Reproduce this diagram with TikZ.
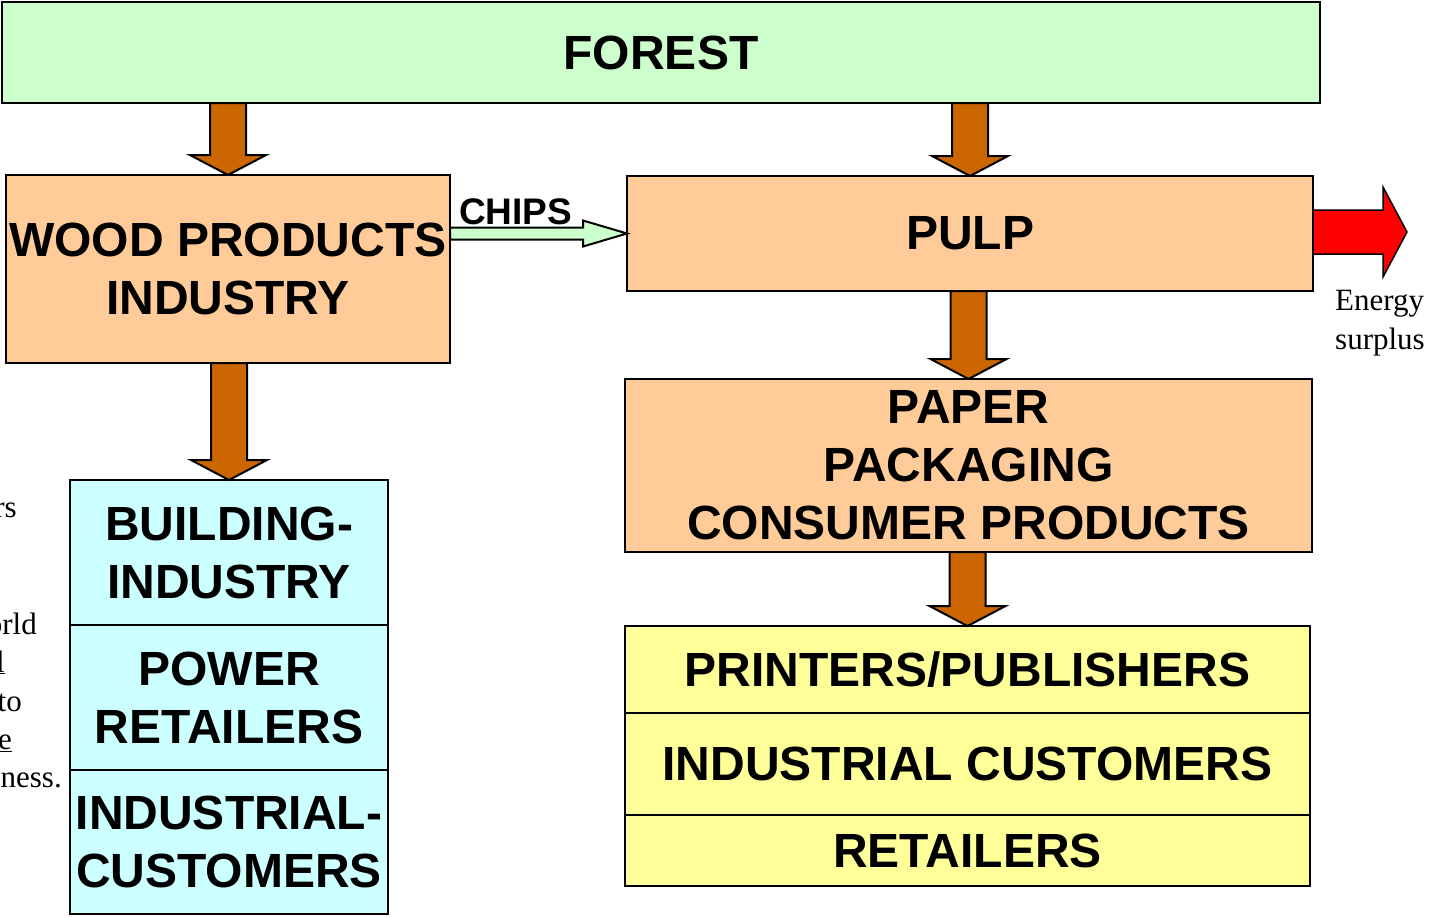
\documentclass[tikz,border=0pt]{standalone}
\usepackage{fontspec}
\setmainfont{Liberation Sans}
\newfontfamily\timesfont{Liberation Serif}
\usetikzlibrary{calc,positioning}

\definecolor{forestgreen}{HTML}{CCFFCC}
\definecolor{woodorange}{HTML}{FFCC99}
\definecolor{usercyan}{HTML}{CCFFFF}
\definecolor{useryellow}{HTML}{FFFF99}
\definecolor{flowbrown}{HTML}{CC6600}

% fat arrow from the bottom of one box down to the top of the next
\newcommand{\flowdown}[2]{%
	\filldraw[flow] let \p1=(#2.north), \p2=(#1.south) in
	(\x1-18,\y2) -- (\x1-18,\y1+20) -- (\x1-38,\y1+20) -- (\x1,\y1)
	-- (\x1+38,\y1+20) -- (\x1+18,\y1+20) -- (\x1+18,\y2) -- cycle;}

\begin{document}
\begin{tikzpicture}[x=1pt,y=1pt,
		% Style definitions
		box/.style={
			rectangle,
			draw=black,
			line width=2pt,
			inner sep=0pt,
			outer sep=0pt,
			align=center,
			font=\fontsize{48}{58}\selectfont\bfseries
		},
		flow/.style={
			fill=flowbrown,
			draw=black,
			line width=2pt,
			line join=miter
		},
		note/.style={
			font=\fontsize{31}{38.5}\selectfont\timesfont,
			inner sep=0pt
		}
		]
		\useasboundingbox (0,0) rectangle (1429,-916);
		
		% Supply chain boxes
		\node[box, fill=forestgreen, minimum width=1318, minimum height=101] (forest) at (661,-52.5) {FOREST};
		\node[box, fill=woodorange, minimum width=444, minimum height=188] (wood) at (228,-269) {WOOD PRODUCTS\\INDUSTRY};
		\node[box, fill=woodorange, minimum width=686, minimum height=115] (pulp) at (970,-233.5) {PULP};
		\node[box, fill=woodorange, minimum width=687, minimum height=173] (paper) at (968.5,-465.5) {PAPER\\PACKAGING\\CONSUMER PRODUCTS};
		
		% Customers of the paper side
		\node[box, fill=useryellow, minimum width=685, minimum height=87] (printers) at (967.5,-669.5) {PRINTERS/PUBLISHERS};
		\node[box, fill=useryellow, minimum width=685, minimum height=102] (indcust) at (967.5,-764) {INDUSTRIAL CUSTOMERS};
		\node[box, fill=useryellow, minimum width=685, minimum height=71] (retail) at (967.5,-850.5) {RETAILERS};
		
		% Customers of the wood side
		\node[box, fill=usercyan, minimum width=318, minimum height=145] (building) at (229,-552.5) {BUILDING-\\INDUSTRY};
		\node[box, fill=usercyan, minimum width=318, minimum height=145] (power) at (229,-697.5) {POWER\\RETAILERS};
		\node[box, fill=usercyan, minimum width=318, minimum height=144] (induser) at (229,-842) {INDUSTRIAL-\\CUSTOMERS};
		
		% Material flows
		\flowdown{forest}{wood}
		\flowdown{forest}{pulp}
		\flowdown{wood}{building}
		\flowdown{pulp}{paper}
		\flowdown{paper}{printers}
		
		% Chips go from sawmills to the pulp mill
		\filldraw[fill=forestgreen, draw=black, line width=2pt]
		let \p1=(wood.east |- pulp.west), \p2=(pulp.west) in
		(\x1,\y1+6) -- (\x2-44,\y1+6) -- (\x2-44,\y1+13) -- (\p2)
		-- (\x2-44,\y1-13) -- (\x2-44,\y1-6) -- (\x1,\y1-6) -- cycle;
		\node[font=\fontsize{37}{44}\selectfont\bfseries, anchor=base west, inner sep=0pt] (chips) at (459,-224) {CHIPS};
		
		% Energy surplus
		\coordinate (surplus) at (1407,-232);
		\filldraw[fill=red, draw=black, line width=1.5pt]
		let \p1=(pulp.east), \p2=(surplus) in
		(\x1,\y2+22) -- (\x2-24,\y2+22) -- (\x2-24,\y2+45) -- (\p2)
		-- (\x2-24,\y2-45) -- (\x2-24,\y2-22) -- (\x1,\y2-22) -- cycle;
		\node[note, anchor=north west, align=left] (energy) at (1335,-290) {Energy\\surplus};
		
		% Running text beside the figure
		\node[note, anchor=base east] (t1) at (17,-517) {rs};
		\node[note, anchor=base east] (t2) at (37,-634) {orld};
		\node[note, anchor=base east] (t3) at (5,-672) {\underline{l}};
		\node[note, anchor=base east] (t4) at (22,-711) {to};
		\node[note, anchor=base east] (t5) at (12,-749) {\underline{e}};
		\node[note, anchor=base east] (t6) at (62,-787) {iness.};
		
	\end{tikzpicture}
\end{document}
